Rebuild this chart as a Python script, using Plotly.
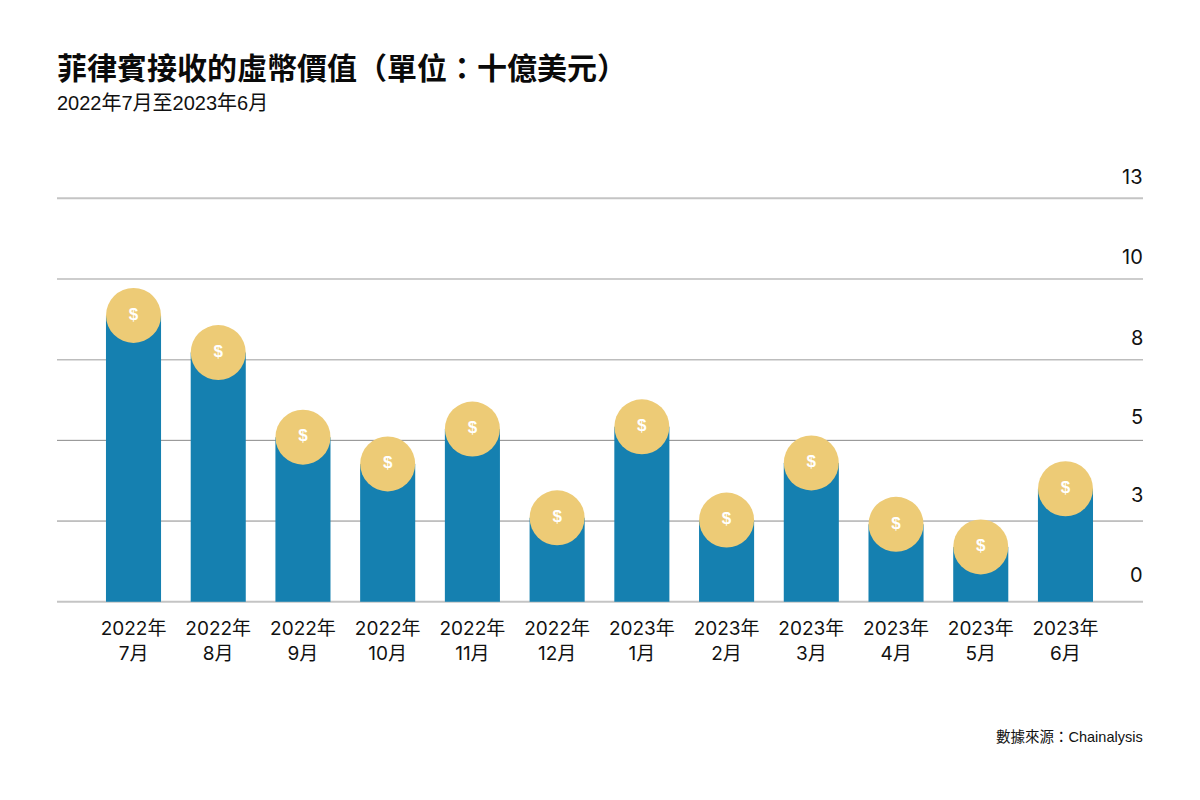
import plotly.graph_objects as go

months = ["2022年<br>7月", "2022年<br>8月", "2022年<br>9月", "2022年<br>10月", "2022年<br>11月", "2022年<br>12月",
          "2023年<br>1月", "2023年<br>2月", "2023年<br>3月", "2023年<br>4月", "2023年<br>5月", "2023年<br>6月"]
values = [8.87, 7.72, 5.1, 4.27, 5.35, 2.6, 5.42, 2.53, 4.3, 2.4, 1.7, 3.5]
tick_values = [0, 2.5, 5, 7.5, 10, 12.5]
tick_labels = ["0", "3", "5", "8", "10", "13"]
label_lift = [27, 26, 23, 22, 22, 21]
grid_colors = ["#c4c4c4", "#8a8a8a", "#8a8a8a", "#bdbdbd", "#bdbdbd", "#c4c4c4"]
grid_widths = [2, 1, 1, 1.5, 1.5, 2]

CJK = "Inter, 'Noto Sans CJK TC', sans-serif"
BAR = "#1580b0"
COIN = "#edcb76"

fig = go.Figure()
fig.add_trace(go.Bar(x=months, y=values, marker=dict(color=BAR, line_width=0), width=0.65,
                     hoverinfo="skip", cliponaxis=False))
fig.add_trace(go.Scatter(x=months, y=values, mode="markers+text", text=["$"] * len(values),
                         textposition="middle center",
                         textfont=dict(family="Liberation Sans, sans-serif", size=17, color="white", weight="bold"),
                         marker=dict(color=COIN, size=55, line_width=0), cliponaxis=False, hoverinfo="skip"))

for v, lab, lift, c, w in zip(tick_values, tick_labels, label_lift, grid_colors, grid_widths):
    fig.add_shape(type="line", xref="paper", yref="y", x0=0, x1=1, y0=v, y1=v,
                  line=dict(color=c, width=w), layer="below")
    fig.add_annotation(xref="paper", yref="y", x=1, y=v, text=lab, showarrow=False,
                       xanchor="right", yanchor="middle", yshift=lift, xshift=2,
                       font=dict(family=CJK, size=20, color="#111111"))

fig.add_annotation(xref="paper", yref="paper", x=0, y=1, xanchor="left", yanchor="middle", yshift=128.8, xshift=-2,
                   text="<b>菲律賓接收的虛幣價值（單位：十億美元）</b>", showarrow=False,
                   font=dict(family="'Noto Sans CJK TC', sans-serif", size=30, color="#0a0a0a"))
fig.add_annotation(xref="paper", yref="paper", x=0, y=1, xanchor="left", yanchor="middle", yshift=91.8, xshift=-2,
                   text="2022年7月至2023年6月", showarrow=False,
                   font=dict(family="Liberation Sans, 'Noto Sans CJK TC', sans-serif", size=20, color="#111111"))
fig.add_annotation(xref="paper", yref="paper", x=1, y=0, xanchor="right", yanchor="middle", yshift=-132, xshift=2,
                   text="數據來源：Chainalysis", showarrow=False,
                   font=dict(family="Liberation Sans, 'Noto Sans CJK TC', sans-serif", size=14.5, color="#111111"))

fig.update_layout(
    width=1200, height=800, autosize=False,
    margin=dict(l=49, r=65, t=186.77, b=202.77),
    paper_bgcolor="white", plot_bgcolor="white",
    showlegend=False,
    xaxis=dict(type="category", range=[-0.903, 11.915], showgrid=False, showline=False, ticks="",
               tickfont=dict(family=CJK, size=19, color="#111111"), ticklabelstandoff=10, tickangle=0),
    yaxis=dict(range=[-0.1, 12.6], showgrid=False, zeroline=False, showticklabels=False, ticks=""),
)
fig.write_html("out.html")
